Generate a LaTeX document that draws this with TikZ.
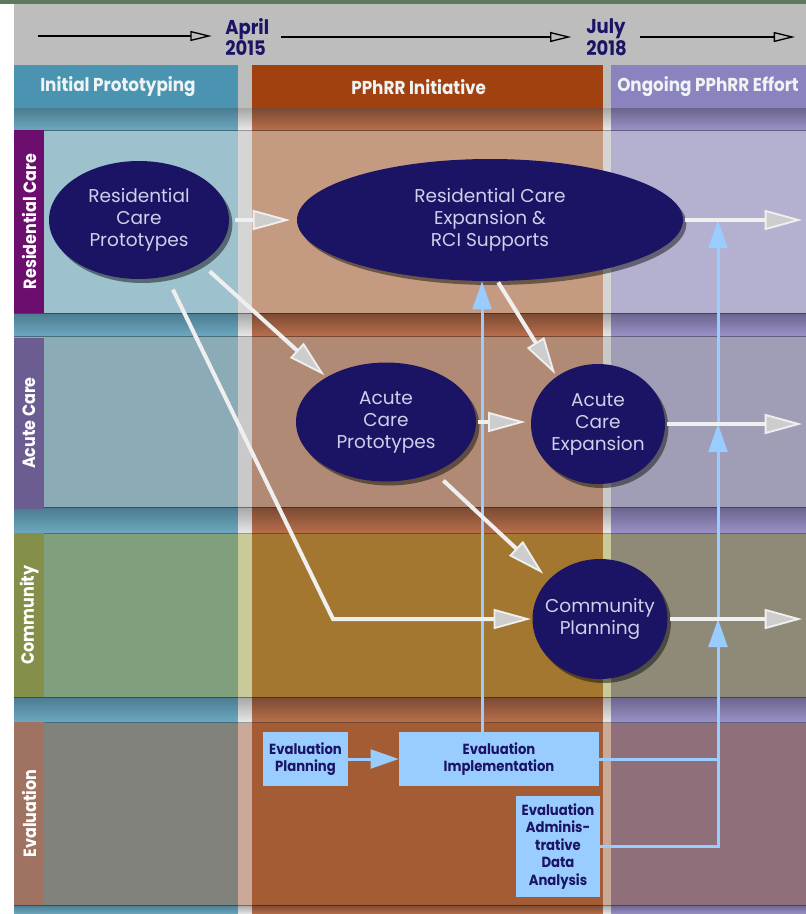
\documentclass[tikz,border=0pt]{standalone}
\usepackage{fontspec}
\setmainfont{Poppins}
\newfontfamily\condfont[FakeStretch=0.9]{Poppins}
\usetikzlibrary{arrows.meta,shapes.geometric,shadows}

% palette
\definecolor{bggrey}{HTML}{BDBDBD}
\definecolor{topgreen}{HTML}{5E7A5C}
\definecolor{hTeal}{HTML}{4A94B2}
\definecolor{hRust}{HTML}{A0410F}
\definecolor{hPurp}{HTML}{8A83BF}
\definecolor{bandT}{HTML}{6DA8BF}
\definecolor{bandTd}{HTML}{4A7C90}
\definecolor{bandO}{HTML}{B86F4B}
\definecolor{bandOd}{HTML}{7A4A33}
\definecolor{bandP}{HTML}{9A92C6}
\definecolor{bandPd}{HTML}{6A648E}
\definecolor{bandG}{HTML}{E8E8E8}
\definecolor{bandGd}{HTML}{A6A6A6}
\definecolor{rAT}{HTML}{9DC1CD}\definecolor{rAG}{HTML}{D5D5D5}\definecolor{rAO}{HTML}{C49B80}\definecolor{rAP}{HTML}{B3B0D0}
\definecolor{rBT}{HTML}{8BABB6}\definecolor{rBG}{HTML}{C9C9C9}\definecolor{rBO}{HTML}{B08A74}\definecolor{rBP}{HTML}{A09EB6}
\definecolor{rCT}{HTML}{7F9F7D}\definecolor{rCG}{HTML}{C9C99A}\definecolor{rCO}{HTML}{A3772F}\definecolor{rCP}{HTML}{8E8A77}
\definecolor{rDT}{HTML}{80827B}\definecolor{rDG}{HTML}{CBA999}\definecolor{rDO}{HTML}{A35C33}\definecolor{rDP}{HTML}{8F6F79}
\definecolor{labA}{HTML}{6C0E6E}
\definecolor{labB}{HTML}{6B5D92}
\definecolor{labC}{HTML}{848F4A}
\definecolor{labD}{HTML}{A07262}
\definecolor{navy}{HTML}{1B1464}
\definecolor{bubtext}{HTML}{D0CFEA}
\definecolor{hdrwhite}{HTML}{EEF4F4}
\definecolor{evblue}{HTML}{99CCFF}
\definecolor{flowwhite}{HTML}{EFEFEF}
\definecolor{headgrey}{HTML}{CDCDCD}

\tikzset{
  bubble/.style={ellipse, fill=navy, text=bubtext, inner sep=-12pt, align=center,
    font=\fontsize{13.9pt}{16.5pt}\selectfont,
    drop shadow={shadow xshift=2.5pt, shadow yshift=-3pt, opacity=0.45, fill=black}},
  evbox/.style={rectangle, fill=evblue, text=navy, inner sep=0pt, align=center,
    font=\condfont\bfseries\fontsize{11pt}{13.1pt}\selectfont},
  hdrtext/.style={text=hdrwhite, inner sep=0pt, anchor=west,
    font=\condfont\bfseries\fontsize{14pt}{16pt}\selectfont},
  rowlabel/.style={rectangle, inner sep=0pt, rotate=90, text=white,
    minimum height=22.5pt, font=\condfont\bfseries\fontsize{13.3pt}{15pt}\selectfont},
  datetext/.style={text=navy, inner sep=0pt, anchor=west, align=left,
    font=\condfont\bfseries\fontsize{15pt}{14.5pt}\selectfont},
  flow/.style={draw=flowwhite, line width=3pt,
    -{Triangle[length=28pt,width=15pt,fill=headgrey,line width=1.4pt]}},
  evline/.style={draw=evblue, line width=2.25pt},
  evarrow/.style={evline, -{Triangle[length=21pt,width=14pt]}},
  timeline/.style={draw=black, line width=1.1pt,
    -{Triangle[open,length=16pt,width=7.5pt,line width=1pt]}},
  rowline/.style={draw=black, opacity=0.35, line width=0.75pt}
}

\begin{document}
\begin{tikzpicture}[x=0.75pt,y=-0.75pt]
\useasboundingbox (0,0) rectangle (806,914);
\clip (0,0) rectangle (806,914);

% page ground
\fill[bggrey] (0,0) rectangle (806,914);
\fill[white] (0,0) rectangle (14,914);
\fill[topgreen] (0,0) rectangle (806,4);

% phase headers
\fill[hTeal] (14,65) rectangle (238,108);
\fill[hRust] (252,65) rectangle (603,108);
\fill[hPurp] (611,65) rectangle (806,108);

% lanes
\foreach \ya/\yb/\ct/\cg/\co/\cp in
  {130/313/rAT/rAG/rAO/rAP, 336/507/rBT/rBG/rBO/rBP,
   533/697/rCT/rCG/rCO/rCP, 722/905/rDT/rDG/rDO/rDP}{
  \fill[\ct] (14,\ya) rectangle (238,\yb);
  \fill[\cg] (238,\ya) rectangle (252,\yb);
  \fill[\co] (252,\ya) rectangle (603,\yb);
  \fill[\cg] (603,\ya) rectangle (611,\yb);
  \fill[\cp] (611,\ya) rectangle (806,\yb);
}

% separating bands between lanes
\foreach \ya/\yb in {108/130, 313/336, 507/533, 697/722, 905/914}{
  \shade[top color=bandTd, middle color=bandT, bottom color=bandT] (14,\ya) rectangle (238,\yb);
  \shade[top color=bandGd, middle color=bandG, bottom color=bandG] (238,\ya) rectangle (252,\yb);
  \shade[top color=bandOd, middle color=bandO, bottom color=bandO] (252,\ya) rectangle (603,\yb);
  \shade[top color=bandGd, middle color=bandG, bottom color=bandG] (603,\ya) rectangle (611,\yb);
  \shade[top color=bandPd, middle color=bandP, bottom color=bandP] (611,\ya) rectangle (806,\yb);
}
\foreach \y in {130,313,336,507,533,697,722,905}
  \draw[rowline] (14,\y) -- (806,\y);

% header and lane titles
\node[hdrtext] (hInit) at (40,87) {Initial Prototyping};
\node[hdrtext] (hInit2) at (351,87) {PPhRR Initiative};
\node[hdrtext] (hOngo) at (617,87) {Ongoing PPhRR Effort};

\node[rowlabel, fill=labA, minimum width=137.25pt] (labRes) at (29,221.5) {Residential Care};
\node[rowlabel, fill=labB, minimum width=128.25pt] (labAcu) at (29,423) {Acute Care};
\node[rowlabel, fill=labC, minimum width=123pt] (labCom) at (29,615) {Community};
\node[rowlabel, fill=labD, minimum width=137.25pt] (labEva) at (29,813.5) {Evaluation};

% timeline
\node[datetext] (april) at (225,37) {April\\2015};
\node[datetext] (july) at (586,37) {July\\2018};
\coordinate (tl0) at (38,36);
\coordinate (tl3) at (795,36);
\draw[timeline, shorten >=10pt] (tl0) -- (tl0 -| april.west);
\draw[timeline, shorten <=9pt, shorten >=11pt] (april.east) -- (april.east -| july.west);
\draw[timeline, shorten <=10pt] (july.east) -- (july.east -| tl3);

% work packages
\node[bubble, minimum width=135pt, minimum height=88.5pt] (rcp) at (139,220)
  {Residential\\Care\\Prototypes};
\node[bubble, minimum width=289.5pt, minimum height=91.5pt] (rce) at (490,220)
  {Residential Care\\Expansion \&\\RCI Supports};
\node[bubble, minimum width=135pt, minimum height=89.25pt] (acp) at (386,422)
  {Acute\\Care\\Prototypes};
\node[bubble, minimum width=100.5pt, minimum height=90pt] (ace) at (598,424)
  {Acute\\Care\\Expansion};
\node[bubble, minimum width=101.25pt, minimum height=90pt] (cp) at (600,619)
  {Community\\Planning};

% evaluation boxes
\node[evbox, minimum width=63.75pt, minimum height=40.5pt] (plan) at (305.5,759)
  {Evaluation\\Planning};
\node[evbox, minimum width=150pt, minimum height=40.5pt] (impl) at (499,759)
  {Evaluation\\Implementation};
\node[evbox, minimum width=63pt, minimum height=75.75pt] (adm) at (558,846.5)
  {Evaluation\\Adminis-\\trative\\Data\\Analysis};

% evaluation feeds
\coordinate (xv) at (482,0);
\coordinate (xb) at (718,0);
\coordinate (xr) at (802,0);
\draw[evarrow] (plan.east) -- (impl.west);
\draw[evarrow] (impl.north -| xv) -- (xv |- rce.south);
\draw[evline] (impl.east) -- (impl.east -| xb);
\draw[evline, line join=miter] (adm.east) -- (adm.east -| xb) -- (impl.east -| xb);
\draw[evarrow] (impl.east -| xb) -- (cp.east -| xb);
\draw[evarrow] (cp.east -| xb) -- (ace.east -| xb);
\draw[evarrow] (ace.east -| xb) -- (rce.east -| xb);

% flow between work packages
\coordinate (bend) at (333,619);
\draw[flow, shorten <=4.5pt, shorten >=5pt] (rcp.east) -- (rcp.east -| rce.west);
\draw[flow, shorten <=9pt, shorten >=2pt] (rcp.-35) -- (acp.143);
\draw[flow, shorten <=11pt, shorten >=1pt] (rcp.-64) -- (bend) -- (bend -| cp.west);
\draw[flow, shorten <=1pt, shorten >=2pt] (rce.-83) -- (ace.131);
\draw[flow, shorten <=1.5pt, shorten >=4pt] (acp.east) -- (acp.east -| ace.west);
\draw[flow, shorten <=9pt, shorten >=6pt] (acp.-46) -- (cp.142);
\draw[flow, shorten <=1.5pt] (rce.east) -- (rce.east -| xr);
\draw[flow, shorten <=1.5pt] (ace.east) -- (ace.east -| xr);
\draw[flow, shorten <=1.5pt] (cp.east) -- (cp.east -| xr);
\end{tikzpicture}
\end{document}
